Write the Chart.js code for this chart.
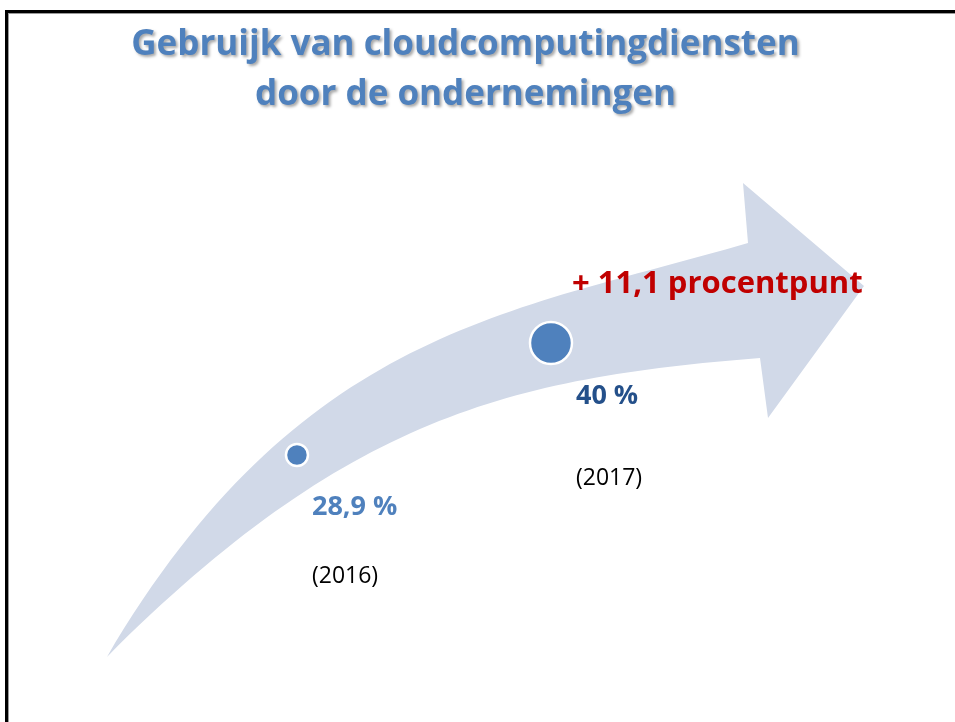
<!DOCTYPE html>
<html>
<head>
<meta charset="utf-8">
<script src="https://cdn.jsdelivr.net/npm/chart.js@4.4.1/dist/chart.umd.min.js"></script>
<style>
  html, body { margin: 0; padding: 0; background: #fff; overflow: hidden; }
  #frame {
    position: absolute; left: 5px; top: 10px; width: 1000px; height: 800px;
    border-left: 3px solid #000; border-top: 3px solid #000;
    box-shadow: inset 1px 1px 0 #9a9a9a;
  }
  #chart { position: absolute; left: 0; top: 0; }
</style>
</head>
<body>
<div id="frame"></div>
<canvas id="chart" width="955" height="722"></canvas>
<script>
// data
const years = [2016, 2017];
const shares = [28.9, 40];
const titleLines = ['Gebruijk van cloudcomputingdiensten', 'door de ondernemingen'];

// looks
const bubbleRadius = [11, 21];
const valueColors = ['#4f81bd', '#24508a'];
const labelDx = [15, 25];
const valueDy = [52, 53];
const yearDy = [121, 135];

let chart = null;

function fmt(v) {
    return String(v).replace('.', ',');
}

const arrowPlugin = {
    id: 'arrow',
    beforeDraw(c) {
        // shadow for the title text
        const ctx = c.ctx;
        ctx.save();
        ctx.shadowColor = 'rgba(0,0,0,0.35)';
        ctx.shadowOffsetX = 2;
        ctx.shadowOffsetY = 2;
        ctx.shadowBlur = 3;
    },
    beforeDatasetsDraw(c) {
        const ctx = c.ctx;
        ctx.restore();
        // big curved background arrow
        ctx.save();
        ctx.beginPath();
        ctx.moveTo(107, 657);
        ctx.bezierCurveTo(300, 330, 508, 313, 748, 243);
        ctx.lineTo(743, 183);
        ctx.lineTo(864, 286);
        ctx.lineTo(768, 418);
        ctx.lineTo(760, 358);
        ctx.bezierCurveTo(510, 378, 347, 417, 107, 657);
        ctx.closePath();
        ctx.fillStyle = '#d1d9e8';
        ctx.fill();
        ctx.restore();
    },
    afterDatasetsDraw(c) {
        const ctx = c.ctx;
        const pts = c.getDatasetMeta(0).data;
        ctx.save();
        ctx.textAlign = 'left';
        ctx.textBaseline = 'middle';
        pts.forEach((p, i) => {
            ctx.font = 'bold 27px "Open Sans"';
            ctx.fillStyle = valueColors[i];
            ctx.fillText(fmt(shares[i]) + ' %', p.x + labelDx[i], p.y + valueDy[i]);
            ctx.font = '23px "Open Sans"';
            ctx.fillStyle = '#000';
            ctx.fillText('(' + years[i] + ')', p.x + labelDx[i], p.y + yearDy[i]);
        });
        // difference between the two years
        const last = pts[pts.length - 1];
        const diff = (shares[shares.length - 1] - shares[0]).toFixed(1);
        ctx.font = 'bold 31px "Open Sans"';
        ctx.fillStyle = '#c00000';
        ctx.fillText('+ ' + fmt(diff) + ' procentpunt', last.x + 21, last.y - 59);
        ctx.restore();
    }
};

function initChart() {
    const ctx = document.getElementById('chart').getContext('2d');
    chart = new Chart(ctx, {
        type: 'bubble',
        data: {
            datasets: [{
                data: years.map((y, i) => ({x: y, y: shares[i]})),
                backgroundColor: '#4f81bd',
                borderColor: '#ffffff',
                borderWidth: 2.5,
                radius: c => bubbleRadius[c.dataIndex],
                hoverRadius: 0
            }]
        },
        options: {
            responsive: false,
            animation: false,
            events: [],
            layout: { padding: { left: 0, right: 24, top: 0, bottom: 0 }, autoPadding: false },
            scales: {
                x: { type: 'linear', display: false, min: 2014.831, max: 2018.496 },
                y: { type: 'linear', display: false, min: 2.44, max: 61.11 }
            },
            plugins: {
                legend: { display: false },
                tooltip: { enabled: false },
                title: {
                    display: true,
                    text: titleLines,
                    color: '#4f81bd',
                    font: { family: '"Open Sans"', size: 35, weight: 'bold', lineHeight: 50 / 35 },
                    padding: { top: 20, bottom: 10 }
                }
            }
        },
        plugins: [arrowPlugin]
    });
}

initChart();
</script>
</body>
</html>
